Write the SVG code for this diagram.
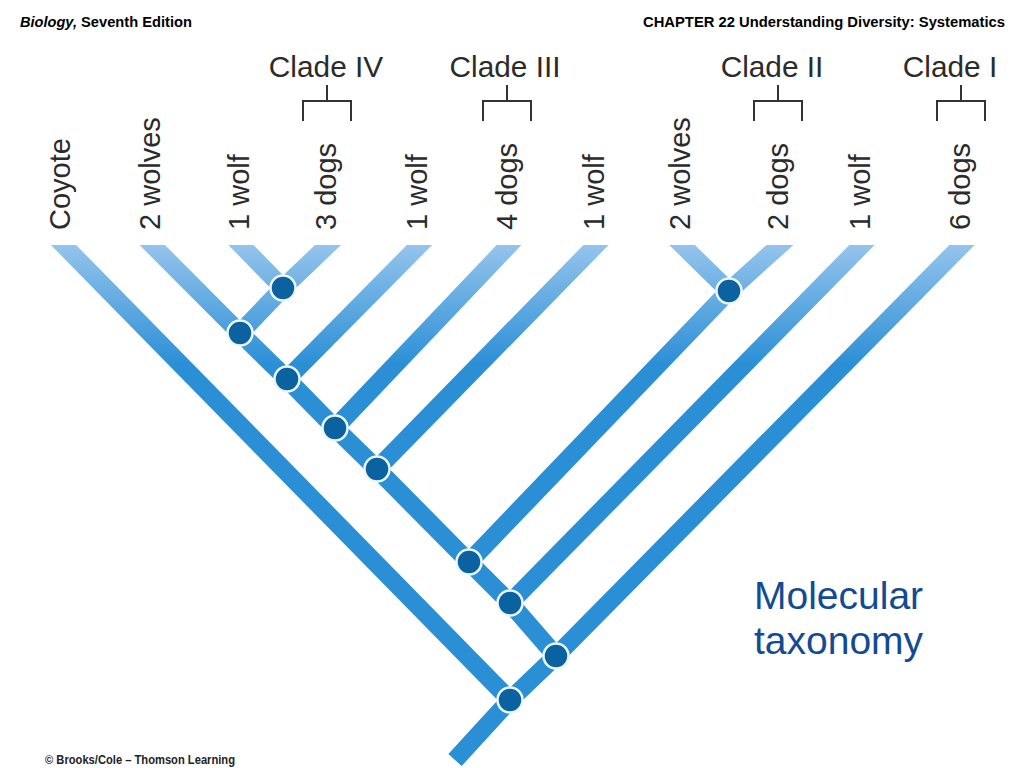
<svg xmlns="http://www.w3.org/2000/svg" width="1024" height="768" viewBox="0 0 1024 768">
<style>
.hdr{font-family:"Liberation Sans",Arial,sans-serif;font-weight:bold;font-size:14.5px;fill:#000}
.clade{font-family:"Liberation Sans",Arial,sans-serif;font-size:29.8px;fill:#2b2b2b;text-anchor:middle}
.tip{font-family:"Liberation Sans",Arial,sans-serif;font-size:29px;fill:#2b2b2b}
.br{fill:none;stroke:#333;stroke-width:2}
.band{fill:none;stroke:url(#bg);stroke-width:18;stroke-linejoin:round}
.node{fill:#0b62a0;stroke:#eef7fc;stroke-width:2.5}
.mol{font-family:"Liberation Sans",Arial,sans-serif;font-size:39px;fill:#134b93}
.foot{font-family:"Liberation Sans",Arial,sans-serif;font-weight:bold;font-size:12px;fill:#222}
</style>
<defs>
<linearGradient id="bg" gradientUnits="userSpaceOnUse" x1="0" y1="245" x2="0" y2="365">
<stop offset="0" stop-color="#94c4ec"/>
<stop offset="1" stop-color="#2b8fd6"/>
</linearGradient>
<clipPath id="cl"><rect x="0" y="245" width="1024" height="523"/></clipPath>
</defs>
<rect width="1024" height="768" fill="#fff"/>
<g id="header">
<text class="hdr" x="20" y="27" font-style="italic" textLength="57" lengthAdjust="spacingAndGlyphs">Biology,</text>
<text class="hdr" x="81" y="27" textLength="111" lengthAdjust="spacingAndGlyphs">Seventh Edition</text>
<text class="hdr" x="643" y="27" textLength="362" lengthAdjust="spacingAndGlyphs">CHAPTER 22 Understanding Diversity: Systematics</text>
</g>
<g id="clades">
<g id="clade-iv"><text class="clade" x="326" y="77">Clade IV</text><path class="br" d="M327,85V101M303,121V101H351V121"/></g>
<g id="clade-iii"><text class="clade" x="505" y="77">Clade III</text><path class="br" d="M507,85V101M483,121V101H531V121"/></g>
<g id="clade-ii"><text class="clade" x="772" y="77">Clade II</text><path class="br" d="M778,85V101M754,121V101H802V121"/></g>
<g id="clade-i"><text class="clade" x="950" y="77">Clade I</text><path class="br" d="M961,85V101M937,121V101H985V121"/></g>
</g>
<g id="tips">
<text class="tip" transform="translate(70,230) rotate(-90)">Coyote</text>
<text class="tip" transform="translate(159.5,230) rotate(-90)">2 wolves</text>
<text class="tip" transform="translate(248.5,230) rotate(-90)">1 wolf</text>
<text class="tip" transform="translate(335.5,230) rotate(-90)">3 dogs</text>
<text class="tip" transform="translate(427,230) rotate(-90)">1 wolf</text>
<text class="tip" transform="translate(516.5,230) rotate(-90)">4 dogs</text>
<text class="tip" transform="translate(603.5,230) rotate(-90)">1 wolf</text>
<text class="tip" transform="translate(689.5,230) rotate(-90)">2 wolves</text>
<text class="tip" transform="translate(787.5,230) rotate(-90)">2 dogs</text>
<text class="tip" transform="translate(869.5,230) rotate(-90)">1 wolf</text>
<text class="tip" transform="translate(969.5,230) rotate(-90)">6 dogs</text>
</g>
<g id="connectors" clip-path="url(#cl)">
<path class="band" d="M48.8,230L510,700"/>
<path class="band" d="M137.3,230L240,333L287,379L335,428L377,469L469,562L510,603L556,656"/>
<path class="band" d="M226.3,230L283,288L240,333"/>
<path class="band" d="M343.7,230L283,288"/>
<path class="band" d="M434.3,230L287,379"/>
<path class="band" d="M523.3,230L335,428"/>
<path class="band" d="M610.7,230L377,469"/>
<path class="band" d="M666.7,230L729,291L469,562"/>
<path class="band" d="M796.6,230L729,291"/>
<path class="band" d="M876.7,230L510,603"/>
<path class="band" d="M976.8,230L556,656L510,700L455,760"/>
</g>
<g id="nodes">
<circle id="n1" class="node" cx="283" cy="288" r="12.5"/>
<circle id="n2" class="node" cx="240" cy="333" r="12.5"/>
<circle id="n3" class="node" cx="287" cy="379" r="12.5"/>
<circle id="n4" class="node" cx="335" cy="428" r="12.5"/>
<circle id="n5" class="node" cx="377" cy="469" r="12.5"/>
<circle id="n6" class="node" cx="729" cy="291" r="12.5"/>
<circle id="n7" class="node" cx="469" cy="562" r="12.5"/>
<circle id="n8" class="node" cx="510" cy="603" r="12.5"/>
<circle id="n9" class="node" cx="556" cy="656" r="12.5"/>
<circle id="n10" class="node" cx="510" cy="700" r="12.5"/>
</g>
<g id="caption">
<text class="mol" x="754" y="609">Molecular</text>
<text class="mol" x="754" y="654">taxonomy</text>
</g>
<text class="foot" x="45" y="764" textLength="190" lengthAdjust="spacingAndGlyphs">© Brooks/Cole – Thomson Learning</text>
</svg>
